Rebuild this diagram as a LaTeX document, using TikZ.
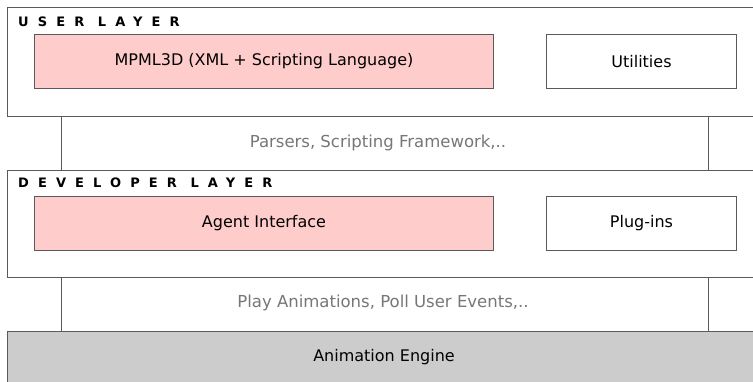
\documentclass[tikz,border=0pt]{standalone}
\usepackage{fontspec}
\setmainfont{DejaVu Sans}
\usetikzlibrary{calc}
\definecolor{pinkfill}{HTML}{FFCCCC}
\definecolor{greyfill}{HTML}{CCCCCC}
\definecolor{edge}{HTML}{5A5A5A}
\definecolor{softtext}{HTML}{777777}
\tikzset{
  layerbox/.style={draw=edge, line width=1pt, fill=white, anchor=north west, inner sep=0pt},
  pinkbox/.style={draw=edge, line width=1pt, fill=pinkfill, anchor=north west, minimum width=459pt, minimum height=54pt, font=\fontsize{16}{18}\selectfont},
  whitebox/.style={draw=edge, line width=1pt, fill=white, anchor=north west, minimum width=190pt, minimum height=54pt, font=\fontsize{16}{18}\selectfont},
  title/.style={anchor=west, inner sep=0pt, font=\fontsize{13}{15}\selectfont\bfseries\addfontfeatures{LetterSpace=70}},
  bandtext/.style={text=softtext, font=\fontsize{16.5}{18}\selectfont},
  link/.style={draw=edge, line width=1pt}
}
\begin{document}
\begin{tikzpicture}[x=1pt,y=-1pt]
\clip (0,0) rectangle (753,381);
\fill[white] (0,0) rectangle (753,381);
% layers
\node[layerbox, minimum width=760pt, minimum height=109pt] (user) at (7,7) {};
\node[layerbox, minimum width=760pt, minimum height=107pt] (dev) at (7,169.5) {};
\node[layerbox, fill=greyfill, minimum width=760pt, minimum height=60pt] (engine) at (7,331) {};
% titles
\node[title] (usertitle) at (18,22) {USER LAYER};
\node[title] (devtitle) at (18,183) {DEVELOPER LAYER};
% inner boxes
\node[pinkbox] (mpml) at (34,34) {MPML3D (XML + Scripting Language)};
\node[whitebox] (util) at (546,34) {Utilities};
\node[pinkbox] (agent) at (34,196) {Agent Interface};
\node[whitebox] (plug) at (546,196) {Plug-ins};
% engine text
\node[font=\fontsize{16}{18}\selectfont] (enginetext) at (384,357) {Animation Engine};
% connector bands
\coordinate (ua) at ($(user.south west)+(54,0)$);
\coordinate (ub) at ($(user.south west)+(701,0)$);
\coordinate (da) at ($(dev.south west)+(54,0)$);
\coordinate (db) at ($(dev.south west)+(701,0)$);
\draw[link] (ua) -- (ua |- dev.north);
\draw[link] (ub) -- (ub |- dev.north);
\draw[link] (da) -- (da |- engine.north);
\draw[link] (db) -- (db |- engine.north);
\node[bandtext] (parsers) at (378,143) {Parsers, Scripting Framework,..};
\node[bandtext] (play) at (383,303) {Play Animations, Poll User Events,..};
\end{tikzpicture}
\end{document}
